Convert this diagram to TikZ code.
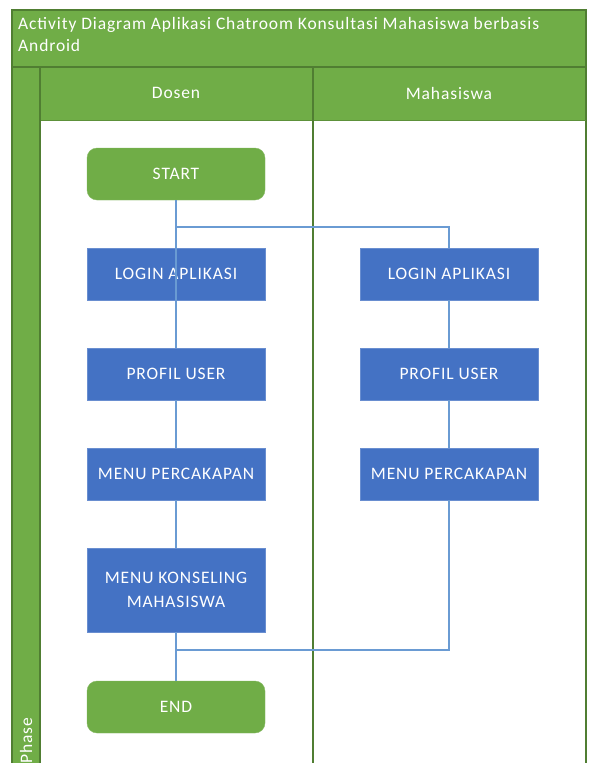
\documentclass[tikz,border=0pt]{standalone}
\usepackage{fontspec}
\setmainfont{Carlito}
\newfontfamily\boxfont[LetterSpace=5]{Carlito}
\newfontfamily\headfont[LetterSpace=5]{Carlito}
\definecolor{lanegreen}{HTML}{70AD47}
\definecolor{darkgreen}{HTML}{507E32}
\definecolor{actblue}{HTML}{4472C4}
\definecolor{linkblue}{HTML}{6A9BD3}
\begin{document}
\begin{tikzpicture}[x=1pt,y=-1pt,
  lanefill/.style={fill=lanegreen},
  laneline/.style={draw=darkgreen,line width=2pt},
  terminal/.style={draw=lanegreen!85!white,fill=lanegreen,rounded corners=10pt,
    minimum width=178pt,minimum height=52pt,text=white,
    font=\boxfont\fontsize{17.5}{19}\selectfont},
  activity/.style={draw=actblue!80!white,fill=actblue,
    minimum width=178pt,minimum height=52pt,text=white,align=center,
    font=\boxfont\fontsize{17.5}{24}\selectfont},
  link/.style={draw=linkblue,line width=1.3pt},
  lanetext/.style={text=white,font=\headfont\fontsize{17.5}{22}\selectfont}]
\useasboundingbox (0,0) rectangle (592,763);
\fill[white] (0,0) rectangle (592,763);

% pool: title band, header row, phase column
\fill[lanefill] (12,10) rectangle (586,120);
\fill[lanefill] (12,120) rectangle (40,780);
\draw[darkgreen,line width=1.5pt] (12,780) -- (12,10) -- (586,10) -- (586,780);
\draw[laneline] (12,67) -- (586,67);
\draw[draw=darkgreen!60!lanegreen,line width=1pt] (40,120) -- (586,120);
\draw[laneline] (40,67) -- (40,780);
\draw[laneline] (313,67) -- (313,780);

\node[lanetext,anchor=north west,align=left,inner sep=0pt] (title) at (18,17)
  {Activity Diagram Aplikasi Chatroom Konsultasi Mahasiswa berbasis\\Android};
\node[lanetext] (dosen) at (176,93) {Dosen};
\node[lanetext] (mhs) at (449,93) {Mahasiswa};
\node[lanetext,rotate=90] (phase) at (26,741) {Phase};

% Dosen lane
\node[terminal] (start) at (176,174) {START};
\node[activity] (loginD) at (176,274) {LOGIN APLIKASI};
\node[activity] (profilD) at (176,374) {PROFIL USER};
\node[activity] (menuD) at (176,474) {MENU PERCAKAPAN};
\node[activity,minimum height=84pt] (konsel) at (176,590) {MENU KONSELING\\MAHASISWA};
\node[terminal] (end) at (176,707) {END};

% Mahasiswa lane
\node[activity] (loginM) at (449,274) {LOGIN APLIKASI};
\node[activity] (profilM) at (449,374) {PROFIL USER};
\node[activity] (menuM) at (449,474) {MENU PERCAKAPAN};

\coordinate (fork) at (176,227);
\coordinate (join) at (176,650);

% flow
\draw[link] (start.south) -- (loginD.south);
\draw[link] (fork) -| (loginM.north);
\draw[link] (loginD) -- (profilD);
\draw[link] (profilD) -- (menuD);
\draw[link] (menuD) -- (konsel);
\draw[link] (konsel) -- (end);
\draw[link] (loginM) -- (profilM);
\draw[link] (profilM) -- (menuM);
\draw[link] (menuM.south) |- (join);
\end{tikzpicture}
\end{document}
